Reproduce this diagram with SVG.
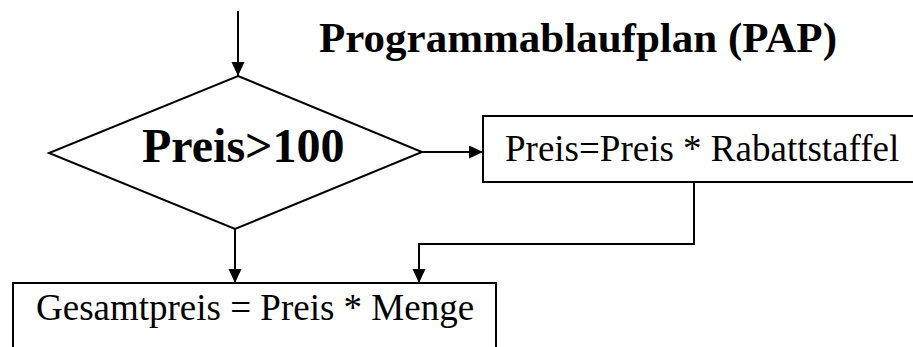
<svg xmlns="http://www.w3.org/2000/svg" width="913" height="347" viewBox="0 0 913 347">
<style>
.s{fill:#fff;stroke:#000;stroke-width:2}
.c{fill:none;stroke:#000;stroke-width:2}
.t{font-family:"Liberation Serif","Times New Roman",serif;fill:#000}
.b{font-weight:bold}
</style>
<defs>
<marker id="a" markerWidth="14" markerHeight="14" refX="14" refY="6.5" orient="auto" markerUnits="userSpaceOnUse">
<path d="M0,0 L14,6.5 L0,13 Z" fill="#000"/>
</marker>
</defs>
<rect width="913" height="347" fill="#fff"/>
<text class="t b" x="319" y="52" font-size="43">Programmablaufplan (PAP)</text>
<g id="decision">
<polygon class="s" points="238,76 422,152 235,229 49,153"/>
<text class="t b" x="142" y="162" font-size="48">Preis&gt;100</text>
</g>
<g id="rabatt">
<rect class="s" x="483" y="116" width="440" height="66"/>
<text class="t" x="505" y="161" font-size="37">Preis=Preis * Rabattstaffel</text>
</g>
<g id="gesamt">
<rect class="s" x="13" y="283" width="483" height="80"/>
<text class="t" x="36" y="320" font-size="37">Gesamtpreis = Preis * Menge</text>
</g>
<g id="connectors">
<path class="c" d="M238,11 L238,76" marker-end="url(#a)"/>
<path class="c" d="M422,152 L483,152" marker-end="url(#a)"/>
<path class="c" d="M235,229 L235,283" marker-end="url(#a)"/>
<path class="c" d="M694,182 L694,244 L419,244 L419,283" marker-end="url(#a)"/>
</g>
</svg>
